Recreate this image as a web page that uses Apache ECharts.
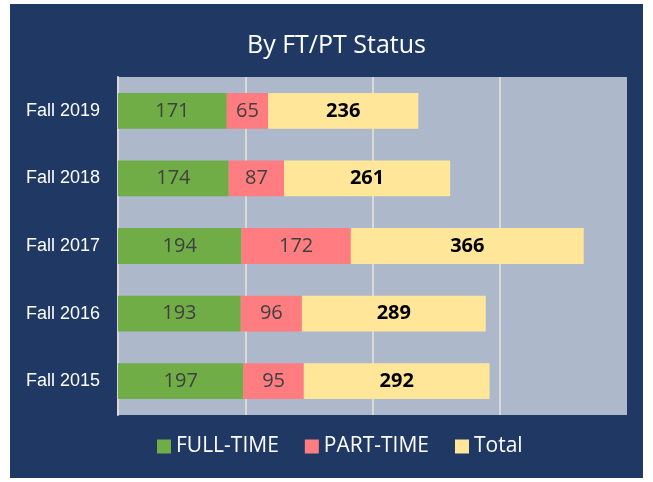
<!DOCTYPE html>
<html>
<head>
<meta charset="utf-8">
<script src="https://cdn.jsdelivr.net/npm/echarts@6/dist/echarts.min.js"></script>
<style>
  html, body { margin: 0; padding: 0; background: #fff; }
  #chart { position: absolute; left: 10px; top: 4px; width: 633px; height: 474px; }
</style>
</head>
<body>
<div id="chart"></div>
<script>
// categories (bottom to top)
var terms = ['Fall 2015', 'Fall 2016', 'Fall 2017', 'Fall 2018', 'Fall 2019']
var fullTime = [197, 193, 194, 174, 171]
var partTime = [95, 96, 172, 87, 65]
var total = [292, 289, 366, 261, 236]

var chart = echarts.init(document.getElementById('chart'))

var innerLabel = {
  show: true,
  position: 'inside',
  color: '#404040',
  fontFamily: 'Open Sans',
  fontSize: 20
}

chart.setOption({
  backgroundColor: '#203864',
  title: {
    text: 'By FT/PT Status',
    left: 232,
    top: 24,
    textStyle: {
      color: '#fff',
      fontFamily: 'Open Sans',
      fontWeight: 'normal',
      fontSize: 25
    }
  },
  legend: {
    bottom: 16,
    left: 142,
    itemWidth: 14,
    itemHeight: 14,
    itemGap: 26,
    icon: 'rect',
    textStyle: {
      color: '#fff',
      fontFamily: 'Open Sans',
      fontSize: 21
    },
    data: ['FULL-TIME', 'PART-TIME', 'Total']
  },
  grid: {
    left: 108,
    right: 16,
    top: 73,
    bottom: 63,
    show: true,
    backgroundColor: '#ADB9CA',
    borderWidth: 0
  },
  xAxis: {
    type: 'value',
    min: 0,
    max: 800,
    interval: 200,
    axisLabel: { show: false },
    axisLine: { show: false },
    axisTick: { show: false },
    splitLine: { showMaxLine: false, lineStyle: { color: '#D9D9D9', width: 2 } }
  },
  yAxis: {
    type: 'category',
    data: terms,
    axisLine: { show: true, lineStyle: { color: '#D9D9D9', width: 2 } },
    axisTick: { show: false },
    axisLabel: {
      color: '#fff',
      fontFamily: 'Liberation Sans',
      fontSize: 18,
      margin: 18
    }
  },
  series: [
    {
      name: 'FULL-TIME',
      type: 'bar',
      stack: 'all',
      barWidth: '53%',
      data: fullTime,
      itemStyle: { color: '#70AD47' },
      label: innerLabel
    },
    {
      name: 'PART-TIME',
      type: 'bar',
      stack: 'all',
      data: partTime,
      itemStyle: { color: '#FF7C80' },
      label: innerLabel
    },
    {
      name: 'Total',
      type: 'bar',
      stack: 'all',
      data: total,
      itemStyle: { color: '#FFE699' },
      label: {
        show: true,
        position: 'inside',
        color: '#000',
        fontFamily: 'Open Sans',
        fontWeight: 'bold',
        fontSize: 20
      }
    }
  ]
})
</script>
</body>
</html>
